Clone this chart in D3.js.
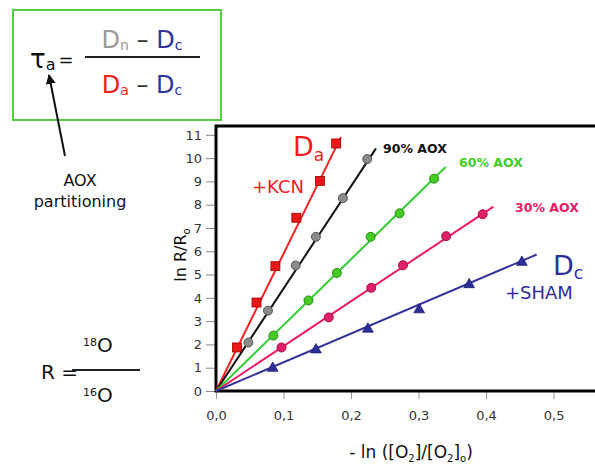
<!DOCTYPE html>
<html>
<head>
<meta charset="utf-8">
<script src="https://cdn.jsdelivr.net/npm/d3@7"></script>
<style>
  body { margin: 0; background: #fff; }
  svg { display: block; }
  .tick-label { font-family: 'DejaVu Sans', sans-serif; font-size: 13px; fill: #333; }
  .hand { font-family: 'Comic Sans MS', 'DejaVu Sans', sans-serif; }
</style>
</head>
<body>
<div id="chart"></div>
<script>
// values
const xTicks = [0, 0.1, 0.2, 0.3, 0.4, 0.5]
const yTicks = [0, 1, 2, 3, 4, 5, 6, 7, 8, 9, 10, 11]

const kcnX = [0.031, 0.060, 0.088, 0.119, 0.154, 0.178]
const kcnY = [1.87, 3.80, 5.36, 7.44, 9.02, 10.63]
const aox90X = [0.048, 0.077, 0.118, 0.148, 0.188, 0.224]
const aox90Y = [2.08, 3.45, 5.39, 6.62, 8.28, 9.96]
const aox60X = [0.085, 0.137, 0.179, 0.229, 0.272, 0.323]
const aox60Y = [2.38, 3.89, 5.07, 6.62, 7.63, 9.12]
const aox30X = [0.097, 0.167, 0.230, 0.277, 0.341, 0.395]
const aox30Y = [1.87, 3.16, 4.43, 5.40, 6.65, 7.59]
const shamX = [0.084, 0.148, 0.225, 0.301, 0.375, 0.453]
const shamY = [0.98, 1.77, 2.66, 3.49, 4.57, 5.53]

// where each fitted line stops
const lineEndX = [0.185, 0.237, 0.340, 0.411, 0.475]
const lineEndY = [10.9, 10.42, 9.62, 7.92, 5.86]

const series = [
  { name: 'kcn', xs: kcnX, ys: kcnY, line: '#ee2222', fill: '#e81818', stroke: '#a00000', shape: 'square' },
  { name: 'aox90', xs: aox90X, ys: aox90Y, line: '#111111', fill: '#8a8a8a', stroke: '#555555', shape: 'circle' },
  { name: 'aox60', xs: aox60X, ys: aox60Y, line: '#33cc33', fill: '#44cc22', stroke: '#2a8a1a', shape: 'circle' },
  { name: 'aox30', xs: aox30X, ys: aox30Y, line: '#ee1a66', fill: '#e0206a', stroke: '#a01040', shape: 'circle' },
  { name: 'sham', xs: shamX, ys: shamY, line: '#33339a', fill: '#2e2e99', stroke: '#1e1e70', shape: 'triangle' }
]

const width = 595
const height = 465

const svg = d3.select('#chart')
  .append('svg')
  .attr('width', width)
  .attr('height', height)

const x = d3.scaleLinear().domain([0, 0.551]).range([216, 588])
const y = d3.scaleLinear().domain([0, 11.38]).range([391, 126])

// ── AXES ───────────────────────────────────────────────
const yAxis = svg.append('g')
  .attr('transform', `translate(${x(0)},0)`)
  .call(d3.axisLeft(y).tickValues(yTicks).tickSize(10).tickPadding(4).tickFormat(d3.format('d')))
yAxis.select('.domain').remove()
yAxis.selectAll('line').attr('stroke', '#888')
yAxis.selectAll('text').attr('class', 'tick-label').attr('font-size', null).attr('font-family', null)

const xAxis = svg.append('g')
  .attr('transform', `translate(0,${y(0)})`)
  .call(d3.axisBottom(x).tickValues(xTicks).tickSize(8).tickPadding(12)
    .tickFormat(d => d3.format('.1f')(d).replace('.', ',')))
xAxis.select('.domain').remove()
xAxis.selectAll('line').attr('stroke', '#999')
xAxis.selectAll('text').attr('class', 'tick-label').attr('font-size', null).attr('font-family', null)

// frame (left, top, bottom; right side runs off the picture)
svg.append('path')
  .attr('d', `M${width},${y(11.38)}H${x(0)}V${y(0)}H${width}`)
  .attr('fill', 'none')
  .attr('stroke', '#000')
  .attr('stroke-width', 3)

// ── LINES & MARKERS ────────────────────────────────────
series.forEach((s, i) => {
  svg.append('line')
    .attr('x1', x(0)).attr('y1', y(0))
    .attr('x2', x(lineEndX[i])).attr('y2', y(lineEndY[i]))
    .attr('stroke', s.line)
    .attr('stroke-width', 2)

  const pts = s.xs.map((v, j) => [v, s.ys[j]])
  const g = svg.append('g').attr('class', 'markers-' + s.name)
  if (s.shape === 'square') {
    g.selectAll('rect').data(pts).join('rect')
      .attr('x', d => x(d[0]) - 4.5).attr('y', d => y(d[1]) - 4.5)
      .attr('width', 9).attr('height', 9)
      .attr('fill', s.fill).attr('stroke', s.stroke).attr('stroke-width', 0.8)
  } else if (s.shape === 'circle') {
    g.selectAll('circle').data(pts).join('circle')
      .attr('cx', d => x(d[0])).attr('cy', d => y(d[1]))
      .attr('r', 4.5)
      .attr('fill', s.fill).attr('stroke', s.stroke).attr('stroke-width', 1)
  } else {
    const tri = d3.symbol().type(d3.symbolTriangle).size(50)
    g.selectAll('path').data(pts).join('path')
      .attr('transform', d => `translate(${x(d[0])},${y(d[1])})`)
      .attr('d', tri)
      .attr('fill', s.fill).attr('stroke', s.stroke).attr('stroke-width', 0.8)
  }
})

// ── SERIES LABELS ──────────────────────────────────────
const lab = svg.append('g').attr('class', 'hand')

const da = lab.append('text').attr('x', 293).attr('y', 156).attr('fill', '#ee1c1c').attr('font-size', 27)
da.append('tspan').text('D')
da.append('tspan').attr('font-size', 17).attr('dy', 5).text('a')
lab.append('text').attr('x', 252).attr('y', 193).attr('fill', '#ee1c1c').attr('font-size', 18).text('+KCN')

lab.append('text').attr('x', 383).attr('y', 153).attr('fill', '#111').attr('font-size', 12.5)
  .attr('font-weight', 'bold').attr('font-family', 'DejaVu Sans, sans-serif').text('90% AOX')
lab.append('text').attr('x', 459).attr('y', 167).attr('fill', '#44cc22').attr('font-size', 12.5)
  .attr('font-weight', 'bold').attr('font-family', 'DejaVu Sans, sans-serif').text('60% AOX')
lab.append('text').attr('x', 515).attr('y', 212).attr('fill', '#e81a66').attr('font-size', 12.5)
  .attr('font-weight', 'bold').attr('font-family', 'DejaVu Sans, sans-serif').text('30% AOX')

const dc = lab.append('text').attr('x', 553).attr('y', 275).attr('fill', '#2e2e99').attr('font-size', 27)
dc.append('tspan').text('D')
dc.append('tspan').attr('font-size', 17).attr('dy', 4).text('c')
lab.append('text').attr('x', 505).attr('y', 299).attr('fill', '#2e2e99').attr('font-size', 18).text('+SHAM')

// ── AXIS TITLES ────────────────────────────────────────
const yt = svg.append('text')
  .attr('transform', 'translate(186,255) rotate(-90)')
  .attr('text-anchor', 'middle')
  .attr('font-family', 'DejaVu Sans, sans-serif')
  .attr('font-size', 16)
  .attr('fill', '#111')
yt.append('tspan').text('ln R/R')
yt.append('tspan').attr('font-size', 10).attr('dy', 4).text('o')

const xt = svg.append('text')
  .attr('x', 411).attr('y', 458)
  .attr('text-anchor', 'middle')
  .attr('font-family', 'DejaVu Sans, sans-serif')
  .attr('font-size', 17)
  .attr('fill', '#111')
xt.append('tspan').text('- ln ([O')
xt.append('tspan').attr('font-size', 10).attr('dy', 4).text('2')
xt.append('tspan').attr('dy', -4).text(']/[O')
xt.append('tspan').attr('font-size', 10).attr('dy', 4).text('2')
xt.append('tspan').attr('dy', -4).text(']')
xt.append('tspan').attr('font-size', 10).attr('dy', 4).text('o')
xt.append('tspan').attr('dy', -4).text(')')

// ── FORMULA BOX ────────────────────────────────────────
const box = svg.append('g').attr('class', 'hand')
box.append('rect')
  .attr('x', 13).attr('y', 10).attr('width', 208).attr('height', 110)
  .attr('fill', 'none').attr('stroke', '#55cc44').attr('stroke-width', 2)

const tau = box.append('text').attr('x', 30).attr('y', 68).attr('font-size', 26).attr('fill', '#111')
tau.append('tspan').text('τ')
tau.append('tspan').attr('font-size', 16).attr('dy', 2).text('a')
tau.append('tspan').attr('font-size', 18).attr('dy', -4).attr('dx', 3).text('=')

const num = box.append('text').attr('x', 142).attr('y', 48).attr('text-anchor', 'middle').attr('font-size', 24)
num.append('tspan').attr('fill', '#999').text('D')
num.append('tspan').attr('fill', '#999').attr('font-size', 14).attr('dy', 2).text('n')
num.append('tspan').attr('fill', '#333').attr('dy', -2).text(' – ')
num.append('tspan').attr('fill', '#33339a').text('D')
num.append('tspan').attr('fill', '#33339a').attr('font-size', 14).attr('dy', 2).text('c')

box.append('line').attr('x1', 85).attr('x2', 200).attr('y1', 57).attr('y2', 57)
  .attr('stroke', '#222').attr('stroke-width', 2)

const den = box.append('text').attr('x', 142).attr('y', 93).attr('text-anchor', 'middle').attr('font-size', 24)
den.append('tspan').attr('fill', '#ee1c1c').text('D')
den.append('tspan').attr('fill', '#ee1c1c').attr('font-size', 14).attr('dy', 2).text('a')
den.append('tspan').attr('fill', '#333').attr('dy', -2).text(' – ')
den.append('tspan').attr('fill', '#33339a').text('D')
den.append('tspan').attr('fill', '#33339a').attr('font-size', 14).attr('dy', 2).text('c')

// arrow to tau
svg.append('defs').append('marker')
  .attr('id', 'head').attr('viewBox', '0 0 10 10').attr('refX', 9).attr('refY', 5)
  .attr('markerWidth', 5).attr('markerHeight', 5).attr('orient', 'auto')
  .append('path').attr('d', 'M0,0L10,5L0,10z').attr('fill', '#111')
svg.append('line')
  .attr('x1', 65).attr('y1', 156).attr('x2', 49).attr('y2', 75)
  .attr('stroke', '#111').attr('stroke-width', 2)
  .attr('marker-end', 'url(#head)')

const note = svg.append('g').attr('class', 'hand').attr('fill', '#111').attr('font-size', 16).attr('text-anchor', 'middle')
note.append('text').attr('x', 80).attr('y', 186).text('AOX')
note.append('text').attr('x', 80).attr('y', 207).text('partitioning')

// R = 18O / 16O
const rf = svg.append('g').attr('class', 'hand').attr('fill', '#111')
rf.append('text').attr('x', 41).attr('y', 379).attr('font-size', 20).text('R =')
rf.append('line').attr('x1', 72).attr('x2', 140).attr('y1', 370).attr('y2', 370)
  .attr('stroke', '#222').attr('stroke-width', 2)
const o18 = rf.append('text').attr('x', 83).attr('y', 352).attr('font-size', 20)
o18.append('tspan').attr('font-size', 11).attr('dy', -6).text('18')
o18.append('tspan').attr('dy', 6).text('O')
const o16 = rf.append('text').attr('x', 83).attr('y', 402).attr('font-size', 20)
o16.append('tspan').attr('font-size', 11).attr('dy', -6).text('16')
o16.append('tspan').attr('dy', 6).text('O')
</script>
</body>
</html>
